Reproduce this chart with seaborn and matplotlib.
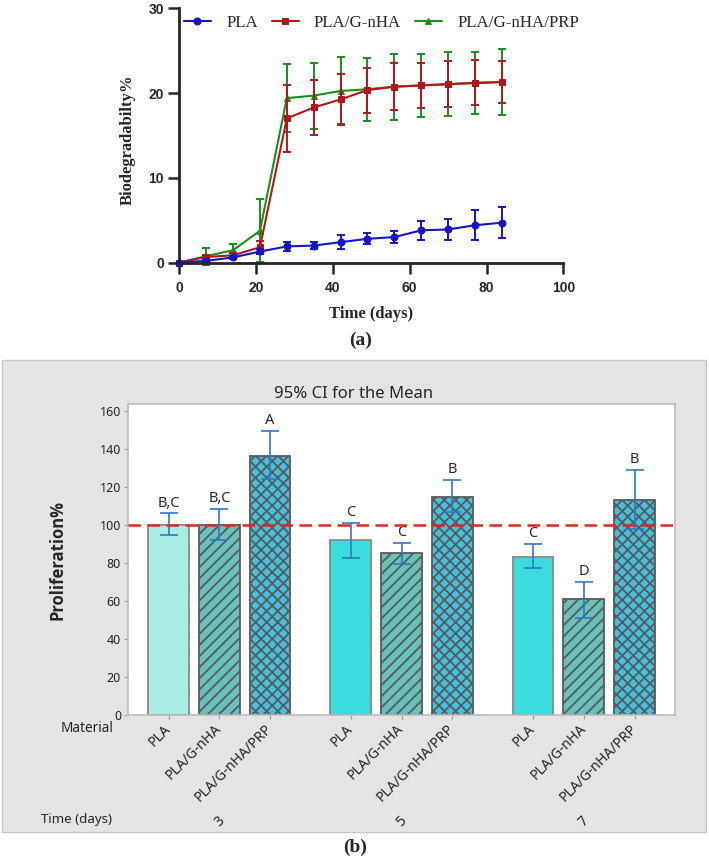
"""
Biodegradation curves (a) and proliferation bar chart (b)
"""

import pandas as pd
import seaborn as sns
import matplotlib.pyplot as plt
import matplotlib.transforms as mtransforms
from matplotlib.patches import Rectangle

# (a) biodegradability, % vs time (days)
days = [0, 7, 14, 21, 28, 35, 42, 49, 56, 63, 70, 77, 84]
pla_deg = [0, 0.2, 0.6, 1.3, 1.9, 2.0, 2.4, 2.8, 3.0, 3.8, 3.9, 4.4, 4.7]
pla_err = [0, 0.1, 0.2, 0.3, 0.5, 0.4, 0.8, 0.65, 0.75, 1.15, 1.25, 1.75, 1.8]
gnha_deg = [0, 0.65, 0.85, 1.8, 17.0, 18.3, 19.25, 20.35, 20.75, 20.9, 21.05, 21.2, 21.3]
gnha_err = [0, 0.2, 0.3, 0.75, 3.9, 3.2, 3.0, 2.65, 2.8, 2.65, 2.7, 2.65, 2.5]
prp_deg = [0, 0.75, 1.45, 3.75, 19.4, 19.7, 20.25, 20.45, 20.75, 20.9, 21.05, 21.2, 21.3]
prp_err = [0, 1.0, 0.7, 3.7, 4.0, 3.9, 3.95, 3.7, 3.9, 3.7, 3.8, 3.7, 3.85]

# (b) proliferation %, 95% CI
materials = ["PLA", "PLA/G-nHA", "PLA/G-nHA/PRP"]
time_days = [3, 5, 7]
prolif_mean = [100, 100, 136.5, 91.8, 85.3, 114.9, 83.3, 60.7, 113.2]
ci_low = [94.4, 91.8, 124.2, 82.6, 79.5, 106.7, 77.5, 50.9, 97.7]
ci_high = [106, 108.6, 149.5, 101.2, 90.4, 123.5, 89.8, 69.8, 128.8]
letters = ["B,C", "B,C", "A", "C", "C", "B", "C", "D", "B"]

sns.set_style("ticks")
plt.rcParams["font.family"] = ["Noto Sans", "DejaVu Sans"]
plt.rcParams["hatch.linewidth"] = 1.3
plt.rcParams["hatch.color"] = "#555555"

fig = plt.figure(figsize=(7.09, 8.59), dpi=100)

# ---------------- (a) ----------------
ax1 = fig.add_axes([0.2529, 0.6944, 0.5416, 0.2959])
series = [
    ("PLA/G-nHA/PRP", prp_deg, prp_err, "#16901a", "^", 4.5),
    ("PLA/G-nHA", gnha_deg, gnha_err, "#b3161a", "s", 5),
    ("PLA", pla_deg, pla_err, "#1414c8", "o", 5),
]
for name, y, e, col, mk, ms in series:
    ax1.errorbar(days, y, yerr=e, fmt="none", ecolor=col, elinewidth=1.4,
                 capsize=2.6, capthick=1.4, clip_on=False)
    sns.lineplot(x=days, y=y, ax=ax1, color=col, marker=mk, markersize=ms,
                 markeredgecolor=col, linewidth=1.5, label=name, clip_on=False)

handles, labels = ax1.get_legend_handles_labels()
order = [labels.index(m) for m in materials]
ax1.legend([handles[i] for i in order], [labels[i] for i in order],
           ncol=3, loc="center left", bbox_to_anchor=(0.012, 0.942),
           frameon=False, borderaxespad=0, borderpad=0, handlelength=1.6,
           handletextpad=0.9, columnspacing=0.8,
           prop={"family": "Liberation Serif", "size": 12.2})

ax1.set_xlim(0, 100)
ax1.set_ylim(0, 30)
ax1.set_xticks([0, 20, 40, 60, 80, 100])
ax1.set_yticks([0, 10, 20, 30])
sns.despine(ax=ax1)
for s in ["left", "bottom"]:
    ax1.spines[s].set_linewidth(2)
ax1.tick_params(width=1.8, length=8, labelsize=10)
ax1.tick_params(axis="x", pad=5)
ax1.tick_params(axis="y", pad=3)
for lbl in ax1.get_xticklabels() + ax1.get_yticklabels():
    lbl.set_fontfamily("Liberation Sans")
    lbl.set_fontweight("bold")
ax1.set_xlabel("Time (days)", family="Liberation Serif", fontweight="bold",
               fontsize=12, va="center")
ax1.xaxis.set_label_coords(0.5, -0.203)
ax1.set_ylabel("Biodegradabilty%", family="Liberation Serif", fontweight="bold",
               fontsize=12, va="center")
ax1.yaxis.set_label_coords(-0.134, 0.482)

fig.text(361 / 709, 1 - 340 / 859, "(a)", family="Liberation Serif",
         fontweight="bold", fontsize=14, ha="center", va="center")

# ---------------- (b) ----------------
fig.add_artist(Rectangle((0.0028, 0.0314), 0.993, 0.5495, transform=fig.transFigure,
                         facecolor="#e4e4e4", edgecolor="#c6c6c6", lw=1, zorder=-1))

group_step = 3.587
df = pd.DataFrame({
    "day": [d for d in time_days for _ in materials],
    "material": materials * len(time_days),
    "mean": prolif_mean,
    "lo": ci_low,
    "hi": ci_high,
    "letter": letters,
})
df["pos"] = [g * group_step + i for g in range(len(time_days)) for i in range(len(materials))]

ax2 = fig.add_axes([0.1805, 0.1682, 0.7715, 0.3615])
ax2.set_facecolor("white")
sns.barplot(data=df, x="pos", y="mean", native_scale=True, width=0.8,
            errorbar=None, ax=ax2)

fills = {"PLA": "#3cdbdd", "PLA/G-nHA": "#66c2bb", "PLA/G-nHA/PRP": "#42c0de"}
hatches = {"PLA": "", "PLA/G-nHA": "///", "PLA/G-nHA/PRP": "xxx"}
for patch, (_, row) in zip(ax2.patches, df.iterrows()):
    fc = fills[row["material"]]
    if row["material"] == "PLA" and row["day"] == 3:
        fc = "#a8eee4"
    patch.set_facecolor(fc)
    patch.set_hatch(hatches[row["material"]])
    patch.set_edgecolor("#8a8a8a" if row["material"] == "PLA" else "#5a5a5a")
    patch.set_linewidth(1.3)

ax2.errorbar(df["pos"], df["mean"], yerr=[df["mean"] - df["lo"], df["hi"] - df["mean"]],
             fmt="none", ecolor="#2f78c4", elinewidth=1.2, capsize=6.2,
             capthick=1.2, zorder=3)
ax2.axhline(100, color="#e8231e", lw=1.8, dashes=(5, 2.6), zorder=4)
for _, row in df.iterrows():
    ax2.annotate(row["letter"], (row["pos"], row["hi"]), xytext=(0, 2),
                 textcoords="offset points", ha="center", va="bottom", fontsize=10.5)

ax2.set_xlim(-0.8, -0.8 + 10.77)
ax2.set_ylim(0, 163.7)
ax2.set_yticks(range(0, 161, 20))
ax2.set_xticks(df["pos"])
ax2.set_xticklabels(df["material"], rotation=45, ha="right", va="center",
                    rotation_mode="anchor")
for s in ax2.spines.values():
    s.set_color("#bdbdbd")
    s.set_linewidth(1.2)
ax2.tick_params(axis="y", length=3, color="#9a9a9a", labelsize=9, pad=2)
ax2.tick_params(axis="x", length=3, color="#9a9a9a", labelsize=10, pad=6)
ax2.set_xlabel("")
ax2.set_ylabel("")

trans = mtransforms.blended_transform_factory(ax2.transData, fig.transFigure)
for g, d in enumerate(time_days):
    ax2.text(g * group_step + 1, 1 - 822 / 859, str(d), transform=trans,
             rotation=45, ha="center", va="center", fontsize=10)

fig.text(354 / 709, 1 - 394 / 859, "95% CI for the Mean", ha="center",
         va="center", fontsize=12)
fig.text(57 / 709, 1 - 560 / 859, "Proliferation%", rotation=90, ha="center",
         va="center", fontsize=12, fontweight="bold",
         family=["Open Sans", "Noto Sans", "DejaVu Sans"])
fig.text(113 / 709, 1 - 728 / 859, "Material", ha="right", va="center", fontsize=9.8)
fig.text(112 / 709, 1 - 819 / 859, "Time (days)", ha="right", va="center", fontsize=9.6)
fig.text(355 / 709, 1 - 847 / 859, "(b)", family="Liberation Serif",
         fontweight="bold", fontsize=14, ha="center", va="center")

fig.savefig("out.png", dpi=100)
